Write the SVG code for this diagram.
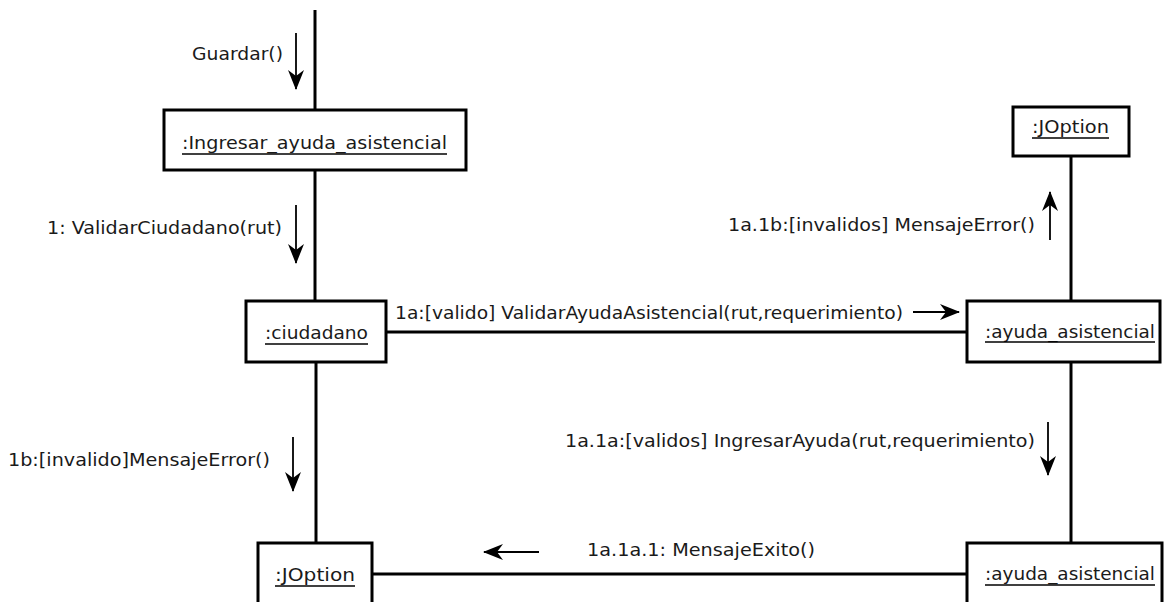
<svg xmlns="http://www.w3.org/2000/svg" width="1169" height="602" viewBox="0 0 1169 602">
<defs>
<style>
.box{fill:#fff;stroke:#000;stroke-width:3}
.conn{stroke:#000;stroke-width:3;fill:none}
.msg{stroke:#000;stroke-width:1.8;fill:none}
.head{fill:#000}
.ul{stroke:#000;stroke-width:1.5}
text{font-family:"DejaVu Sans","Liberation Sans",sans-serif;font-size:18px;fill:#1a1a1a}
</style>
<marker id="ah" markerUnits="userSpaceOnUse" viewBox="0 0 20 16" markerWidth="20" markerHeight="16" refX="19" refY="8" orient="auto">
<path class="head" d="M0,0 L20,8 L0,16 L6,8 z"/>
</marker>
</defs>
<rect width="1169" height="602" fill="#fff"/>
<g id="connectors">
<line class="conn" x1="315" y1="10" x2="315" y2="110"/>
<line class="conn" x1="315" y1="170" x2="315" y2="301"/>
<line class="conn" x1="386" y1="332" x2="967" y2="332"/>
<line class="conn" x1="1071" y1="156" x2="1071" y2="301"/>
<line class="conn" x1="1071" y1="362" x2="1071" y2="543"/>
<line class="conn" x1="316" y1="362" x2="316" y2="543"/>
<line class="conn" x1="372" y1="574" x2="967" y2="574"/>
</g>
<g id="messages">
<line class="msg" x1="296" y1="33" x2="296" y2="89" marker-end="url(#ah)"/>
<text x="192" y="60" textLength="91" lengthAdjust="spacingAndGlyphs">Guardar()</text>
<line class="msg" x1="296" y1="205" x2="296" y2="263" marker-end="url(#ah)"/>
<text x="47" y="234" textLength="235" lengthAdjust="spacingAndGlyphs">1: ValidarCiudadano(rut)</text>
<line class="msg" x1="913" y1="312" x2="959" y2="312" marker-end="url(#ah)"/>
<text x="395" y="319" textLength="508" lengthAdjust="spacingAndGlyphs">1a:[valido] ValidarAyudaAsistencial(rut,requerimiento)</text>
<line class="msg" x1="1050" y1="240" x2="1050" y2="192" marker-end="url(#ah)"/>
<text x="728" y="231" textLength="307" lengthAdjust="spacingAndGlyphs">1a.1b:[invalidos] MensajeError()</text>
<line class="msg" x1="293" y1="437" x2="293" y2="491" marker-end="url(#ah)"/>
<text x="8" y="466" textLength="262" lengthAdjust="spacingAndGlyphs">1b:[invalido]MensajeError()</text>
<line class="msg" x1="1048" y1="422" x2="1048" y2="475" marker-end="url(#ah)"/>
<text x="565" y="447" textLength="470" lengthAdjust="spacingAndGlyphs">1a.1a:[validos] IngresarAyuda(rut,requerimiento)</text>
<line class="msg" x1="539" y1="552" x2="484" y2="552" marker-end="url(#ah)"/>
<text x="587" y="556" textLength="228" lengthAdjust="spacingAndGlyphs">1a.1a.1: MensajeExito()</text>
</g>
<g id="ingresar">
<rect class="box" x="164" y="110" width="302" height="60"/>
<text x="182" y="149" textLength="265" lengthAdjust="spacingAndGlyphs">:Ingresar_ayuda_asistencial</text>
<line class="ul" x1="182" y1="154" x2="447" y2="154"/>
</g>
<g id="ciudadano">
<rect class="box" x="246" y="301" width="140" height="61"/>
<text x="265" y="339" textLength="103" lengthAdjust="spacingAndGlyphs">:ciudadano</text>
<line class="ul" x1="265" y1="344" x2="368" y2="344"/>
</g>
<g id="joption_top">
<rect class="box" x="1013" y="107" width="116" height="49"/>
<text x="1032" y="133" textLength="77" lengthAdjust="spacingAndGlyphs">:JOption</text>
<line class="ul" x1="1032" y1="138" x2="1109" y2="138"/>
</g>
<g id="ayuda_top">
<rect class="box" x="967" y="301" width="193" height="61"/>
<text x="985" y="338" textLength="170" lengthAdjust="spacingAndGlyphs">:ayuda_asistencial</text>
<line class="ul" x1="985" y1="342" x2="1155" y2="342"/>
</g>
<g id="joption_bottom">
<rect class="box" x="258" y="543" width="114" height="70"/>
<text x="275" y="581" textLength="80" lengthAdjust="spacingAndGlyphs">:JOption</text>
<line class="ul" x1="275" y1="586" x2="355" y2="586"/>
</g>
<g id="ayuda_bottom">
<rect class="box" x="967" y="543" width="195" height="70"/>
<text x="985" y="580" textLength="170" lengthAdjust="spacingAndGlyphs">:ayuda_asistencial</text>
<line class="ul" x1="985" y1="585" x2="1155" y2="585"/>
</g>
</svg>
